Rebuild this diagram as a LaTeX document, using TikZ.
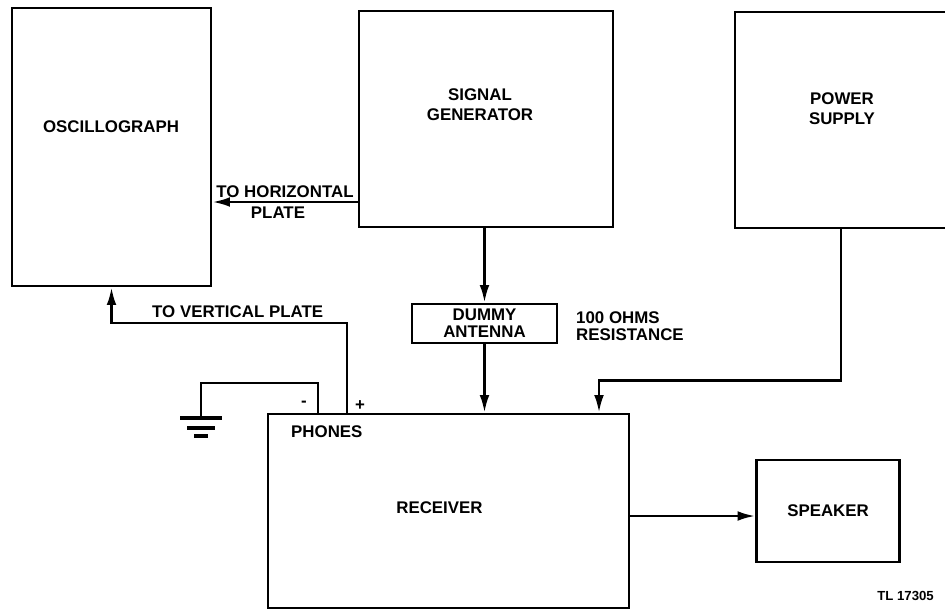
\documentclass[tikz,border=0pt]{standalone}
\usepackage{fontspec}
\setmainfont{Liberation Sans}
\usetikzlibrary{arrows.meta, positioning, calc}

\begin{document}
\begin{tikzpicture}[x=0.02cm, y=-0.02cm, >={Latex[length=10pt,width=5.5pt]},
    font=\bfseries\fontsize{9.6}{11.5}\selectfont,
    block/.style={draw, line width=1.5pt, inner sep=0pt, align=center},
    tight/.style={font=\bfseries\fontsize{9.6}{9.6}\selectfont},
    wire/.style={line width=1.5pt}]

  \useasboundingbox (0,0) rectangle (945,613);

  % the blocks
  \node[block, minimum width=3.98cm, minimum height=5.56cm] (osc) at (111.5,147) {};
  \node (osctext) at (111,127) {OSCILLOGRAPH};

  \node[block, minimum width=5.08cm, minimum height=4.32cm] (siggen) at (486,119) {};
  \node[align=center] (sigtext) at (480,105) {SIGNAL\\GENERATOR};

  \node[block, minimum width=4.24cm, minimum height=4.32cm] (power) at (841,120) {};
  \node[align=center] (powtext) at (842,109) {POWER\\SUPPLY};

  \node[block, tight, minimum width=2.9cm, minimum height=0.78cm] (dummy) at (484.5,323.5) {DUMMY\\ANTENNA};
  \node[tight, anchor=west, align=left] (ohms) at (570,326.5) {100 OHMS\\RESISTANCE};

  \node[block, minimum width=7.22cm, minimum height=3.88cm] (rcv) at (448.5,511) {};
  \node (rcvtext) at (439.5,508) {RECEIVER};
  \node[anchor=west] (phones) at (285,432) {PHONES};

  \node[block, minimum width=2.86cm, minimum height=2.04cm, right=2.5cm of rcv] (spk) {SPEAKER};

  \node[font=\bfseries\fontsize{7.5}{9}\selectfont, anchor=east] (tl) at (940,596) {TL 17305};

  % phones terminals and ground
  \coordinate (phminus) at (318,414);
  \coordinate (phplus) at (347,414);
  \coordinate (gnd) at (201,418);
  \node (minus) at (304,404) {-};
  \node (plus) at (360,406) {+};

  % connections
  \draw[wire,->] (siggen.west |- 0,202) -- node[above, inner sep=1.5pt] {TO HORIZONTAL}
        node[below, inner sep=2pt, xshift=-0.14cm] {PLATE} (osc.east |- 0,202);
  \draw[wire,->] (phplus) -- ++(0,-91) -| (osc.south);
  \node[anchor=west] (vplate) at (146,312) {TO VERTICAL PLATE};
  \draw[wire,->] (dummy.north |- siggen.south) -- (dummy.north);
  \draw[wire,->] (dummy.south) -- (dummy.south |- rcv.north);
  \draw[wire,->] (power.south) -- ++(0,151) -| (rcv.north -| 599,0);
  \draw[wire,->] ([yshift=-0.1cm]rcv.east) -- ([yshift=-0.1cm]spk.west);
  \draw[wire] (phminus) -- ++(0,-31) -| (gnd);
  \foreach \dy/\hw in {0/21, 10/14, 18/7}
    \draw[line width=2.4pt] ($(gnd)+(-\hw,\dy)$) -- ($(gnd)+(\hw,\dy)$);
\end{tikzpicture}
\end{document}
